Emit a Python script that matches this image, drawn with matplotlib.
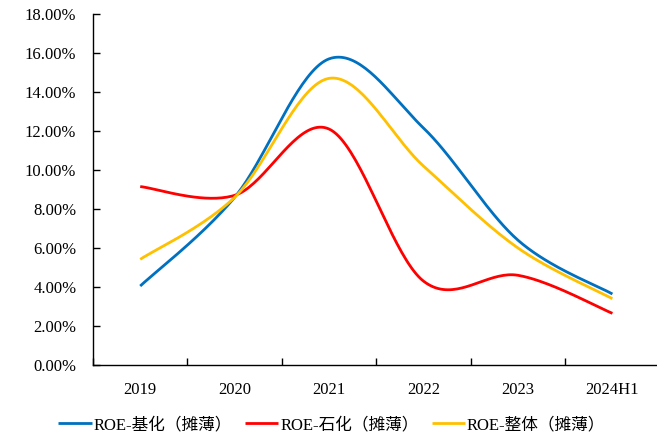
import numpy as np
import matplotlib
matplotlib.use("Agg")
import matplotlib.pyplot as plt
from matplotlib.ticker import FuncFormatter, FixedLocator

plt.rcParams['font.family'] = ['Liberation Serif', 'Noto Sans CJK SC']

# ROE (diluted), %
years = ['2019', '2020', '2021', '2022', '2023', '2024H1']
roe_basic = [4.05, 8.6, 15.7, 12.15, 6.4, 3.64]
roe_petro = [9.15, 8.7, 12.1, 4.3, 4.6, 2.65]
roe_total = [5.42, 8.6, 14.7, 10.2, 6.0, 3.4]

labels = ['ROE-基化（摊薄）', 'ROE-石化（摊薄）', 'ROE-整体（摊薄）']
colors = ['#0070C0', '#FF0000', '#FFC000']


def smooth(x, y, n=40):
    # Excel-like smoothed line: Catmull-Rom through bezier segments
    pts = np.column_stack([x, y]).astype(float)
    out = []
    for i in range(len(pts) - 1):
        p0 = pts[i - 1] if i > 0 else pts[i]
        p1, p2 = pts[i], pts[i + 1]
        p3 = pts[i + 2] if i + 2 < len(pts) else pts[i + 1]
        c1 = p1 + (p2 - p0) / 6
        c2 = p2 - (p3 - p1) / 6
        t = np.linspace(0, 1, n)[:, None]
        seg = ((1 - t) ** 3) * p1 + 3 * ((1 - t) ** 2) * t * c1 \
            + 3 * (1 - t) * t ** 2 * c2 + t ** 3 * p2
        out.append(seg if i == 0 else seg[1:])
    out = np.vstack(out)
    return out[:, 0], out[:, 1]


fig = plt.figure(figsize=(6.57, 4.36), dpi=100)
ax = fig.add_axes([93 / 657, 1 - 365 / 436, 1 - 93 / 657 + 0.004, (365 - 14) / 436])

x = np.arange(len(years))
for vals, lab, c in zip([roe_basic, roe_petro, roe_total], labels, colors):
    sx, sy = smooth(x, vals)
    ax.plot(sx, sy, color=c, lw=2.0, label=lab, solid_capstyle='butt')

ax.set_xlim(-0.5, len(years) - 0.5)
ax.set_ylim(0, 18)
ax.set_yticks(np.arange(0, 19, 2))
ax.yaxis.set_major_formatter(FuncFormatter(lambda v, p: '%.2f%%' % v))
ax.set_xticks(x)
ax.set_xticklabels(years)
ax.xaxis.set_minor_locator(FixedLocator(np.arange(-0.5, len(years), 1)))

for s in ['top', 'right']:
    ax.spines[s].set_visible(False)
for s in ['left', 'bottom']:
    ax.spines[s].set_linewidth(1.0)
    ax.spines[s].set_color('black')

ax.tick_params(axis='y', direction='in', length=5, width=1, pad=12, labelsize=12)
ax.tick_params(axis='x', which='major', length=0, pad=12, labelsize=12)
ax.tick_params(axis='x', which='minor', direction='in', length=5, width=1)

fig.legend(loc='lower center', bbox_to_anchor=(0.505, -0.028), ncol=3, frameon=False,
           fontsize=12, handlelength=2.0, handletextpad=0.1, columnspacing=0.8)

fig.savefig('out.png', dpi=100)
